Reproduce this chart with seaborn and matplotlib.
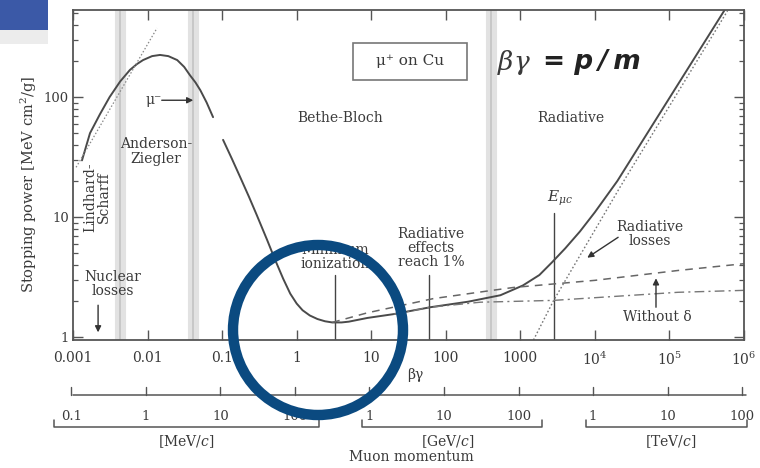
import numpy as np
import pandas as pd
import matplotlib
matplotlib.use('Agg')
import matplotlib.pyplot as plt
import seaborn as sns
from matplotlib.patches import Ellipse, Rectangle
from matplotlib.ticker import FixedLocator, FixedFormatter, LogLocator, NullFormatter, NullLocator

# --- data (x = beta*gamma, y = stopping power MeV cm^2/g) ---
az_bg = [0.00132, 0.00169, 0.0023, 0.0031, 0.0043, 0.0058, 0.0072, 0.0087, 0.0115, 0.0147,
         0.019, 0.025, 0.031, 0.037, 0.044, 0.051, 0.062, 0.0756]
az_sp = [29.7, 50, 72, 100, 135, 168, 188, 203, 219, 224, 219, 203, 178, 152, 132, 114, 90, 68]

bb_bg = [0.103, 0.135, 0.175, 0.23, 0.29, 0.40, 0.52, 0.66, 0.82, 1.0, 1.2, 1.5, 1.9, 2.4,
         3.0, 4.0, 5.0, 8.9, 20, 62, 200, 540, 1080, 1800, 2650, 4000, 6300, 1e4, 2e4, 5.5e5]
bb_sp = [44, 30.7, 21.5, 14.7, 10.5, 6.5, 4.34, 3.07, 2.31, 1.91, 1.68, 1.52, 1.42, 1.36,
         1.33, 1.33, 1.35, 1.45, 1.56, 1.78, 1.98, 2.24, 2.7, 3.3, 4.2, 5.5, 7.6, 11, 20, 530]

dash_bg = [3.0, 8.9, 68, 400, 810, 1e4, 1.3e5, 1e6]
dash_sp = [1.33, 1.6, 2.1, 2.45, 2.6, 2.98, 3.6, 4.1]

dashdot_bg = [20, 62, 290, 2800, 1.3e5, 1e6]
dashdot_sp = [1.56, 1.78, 1.96, 2.03, 2.37, 2.46]

rad_bg = [1500, 2800, 2.2e4, 6e5]
rad_sp = [0.95, 2.03, 18, 520]

lindhard_bg = [0.0011, 0.0134]
lindhard_sp = [26, 375]

band_bg = [0.0043, 0.041, 400]
mark_bg = [3.3, 60, 2800]
mark_top = [3.3, 3.3, 10.8]

xtick_vals = [1e-3, 1e-2, 1e-1, 1, 10, 100, 1000, 1e4, 1e5, 1e6]
xtick_labels = ['0.001', '0.01', '0.1', '1', '10', '100', '1000', '$10^4$', '$10^5$', '$10^6$']
ytick_vals = [1, 10, 100]
ytick_labels = ['1', '10', '100']

muon_mass = 105.66  # MeV
mom_mev = [0.1, 1, 10, 100]
mom_gev = [1, 10, 100]
mom_tev = [1, 10, 100]

sns.set_theme(style='ticks')
plt.rcParams['font.family'] = ['DejaVu Serif']
plt.rcParams['mathtext.fontset'] = 'dejavuserif'

ink = '#3a3a3a'
fig = plt.figure(figsize=(7.6, 4.68), dpi=100)
ax = fig.add_axes([73 / 760, 128 / 468, 671 / 760, 330 / 468])
ax.set_xscale('log')
ax.set_yscale('log')
ax.set_xlim(1e-3, 1e6)
ax.set_ylim(0.95, 530)

for b in band_bg:
    ax.axvline(b, color='#e2e2e2', lw=8, zorder=0)
    ax.axvline(b, color='#c6c6c6', lw=1.3, zorder=0)

for b, t in zip(mark_bg, mark_top):
    ax.plot([b, b], [0.95, t], color='#444444', lw=1.0)

line_kw = dict(ax=ax, sort=False, estimator=None, solid_joinstyle='round')
sns.lineplot(x=az_bg, y=az_sp, color='#4a4a4a', lw=1.4, **line_kw)
sns.lineplot(x=bb_bg, y=bb_sp, color='#4a4a4a', lw=1.4, **line_kw)
sns.lineplot(x=dash_bg, y=dash_sp, color='#666666', lw=1.1, ls=(0, (5, 4)), **line_kw)
sns.lineplot(x=dashdot_bg, y=dashdot_sp, color='#777777', lw=1.0, ls=(0, (7, 3, 1.5, 3)), **line_kw)
sns.lineplot(x=rad_bg, y=rad_sp, color='#777777', lw=1.0, ls=(0, (1.2, 1.6)), **line_kw)
sns.lineplot(x=lindhard_bg, y=lindhard_sp, color='#888888', lw=0.9, ls=(0, (1.2, 1.6)), **line_kw)

ax.xaxis.set_major_locator(FixedLocator(xtick_vals))
ax.xaxis.set_major_formatter(FixedFormatter(xtick_labels))
ax.xaxis.set_minor_locator(NullLocator())
ax.yaxis.set_major_locator(FixedLocator(ytick_vals))
ax.yaxis.set_major_formatter(FixedFormatter(ytick_labels))
ax.yaxis.set_minor_locator(LogLocator(base=10, subs=np.arange(2, 10)))
ax.yaxis.set_minor_formatter(NullFormatter())
ax.tick_params(which='both', direction='in', top=True, right=True, color='#555555',
               labelcolor=ink, labelsize=10)
ax.tick_params(which='major', length=7, width=1.0)
ax.tick_params(which='minor', length=3.5, width=0.9)
ax.tick_params(axis='x', pad=8)
ax.tick_params(axis='y', pad=3, labelsize=9.5)
for s in ax.spines.values():
    s.set_color('#555555')
    s.set_linewidth(1.3)

ax.set_ylabel('Stopping power [MeV cm$^2$/g]', fontsize=10.5, color=ink)
ax.yaxis.set_label_coords(-0.051, 0.47)

txt = dict(color=ink, fontsize=10, ha='center', va='center')
ax.text(3.8, 67, 'Bethe-Bloch', **txt)
ax.text(4.8e3, 67, 'Radiative', **txt)
ax.text(0.013, 35, 'Anderson-\nZiegler', linespacing=1.1, **txt)
ax.text(0.0021, 14.7, 'Lindhard-\nScharff', rotation=90, linespacing=1.0, **txt)
ax.text(0.0034, 2.77, 'Nuclear\nlosses', linespacing=1.0, **txt)
ax.text(3.25, 4.7, 'Minimum\nionization', linespacing=1.0, **txt)
ax.text(63, 5.5, 'Radiative\neffects\nreach 1%', linespacing=1.0, **txt)
ax.text(3.4e3, 14.4, r'$E_{\mu c}$', color=ink, fontsize=11, ha='center', va='center')
ax.text(5.5e4, 7.2, 'Radiative\nlosses', linespacing=1.0, **txt)
ax.text(6.8e4, 1.47, 'Without δ', **txt)
ax.text(0.0155, 94, 'μ⁻', color=ink, fontsize=10, ha='right', va='center')

ax.add_patch(Rectangle((0.417, 0.788), 0.17, 0.112, transform=ax.transAxes,
                       fill=False, ec='#777777', lw=1.2))
ax.text(0.502, 0.844, 'μ⁺ on Cu', transform=ax.transAxes, color=ink, fontsize=11,
        ha='center', va='center')
ax.text(491, 195, r'$\beta\gamma$', color=ink, fontsize=19, ha='left', va='center')
ax.text(2037, 195, '= p\u2009/\u2009m', color='#222222', fontsize=19, ha='left', va='center',
        family='DejaVu Sans', fontweight='bold', style='italic')

arr = dict(arrowstyle='-|>', color='#333333', lw=1.0, mutation_scale=9, shrinkA=0, shrinkB=0)
ax.annotate('', xy=(0.041, 94), xytext=(0.0155, 94), arrowprops=arr)
ax.annotate('', xy=(0.00217, 1.1), xytext=(0.00217, 1.85), arrowprops=arr)
ax.annotate('', xy=(7.9e3, 4.6), xytext=(2.05e4, 6.8), arrowprops=arr)
ax.annotate('', xy=(6.6e4, 3.1), xytext=(6.6e4, 1.78), arrowprops=arr)

# --- momentum scales below the plot (y in pixel rows) ---
ax2 = fig.add_axes([73 / 760, 0, 671 / 760, 128 / 468])
ax2.set_xscale('log')
ax2.set_xlim(1e-3, 1e6)
ax2.set_ylim(468, 340)
ax2.axis('off')
lc = '#555555'
ax2.text(39, 375, 'βγ', color=ink, fontsize=10, ha='center', va='center')

mom_all = [p for p in mom_mev] + [p * 1e3 for p in mom_gev] + [p * 1e6 for p in mom_tev]
ax2.plot([1e-3, 1.07e6], [395, 395], color=lc, lw=1.1, clip_on=False)
for p in mom_all:
    ax2.plot([p / muon_mass] * 2, [395, 387], color=lc, lw=1.0, clip_on=False)

groups = [(mom_mev, 1, 5.6e-4, 2.0, '[MeV/$c$]', 0.033),
          (mom_gev, 1e3, 7.6, 1.95e3, '[GeV/$c$]', 105),
          (mom_tev, 1e6, 7.7e3, 1.1e6, '[TeV/$c$]', 1.03e5)]
for vals, unit, x0, x1, name, xc in groups:
    for p in vals:
        ax2.text(p * unit / muon_mass, 416, f'{p:g}', color=ink, fontsize=9.5,
                 ha='center', va='center', clip_on=False)
    ax2.plot([x0, x0, x1, x1], [420, 427, 427, 420], color=lc, lw=1.1, clip_on=False)
    ax2.text(xc, 442, name, color=ink, fontsize=10, ha='center', va='center')
ax2.text(35, 457, 'Muon momentum', color=ink, fontsize=10, ha='center', va='center')

# slide decorations
fig.add_artist(Rectangle((0, 1 - 44 / 468), 48 / 760, 14 / 468, transform=fig.transFigure,
                         color='#ececec', lw=0))
fig.add_artist(Rectangle((0, 1 - 30 / 468), 48 / 760, 30 / 468, transform=fig.transFigure,
                         color='#3b59a7', lw=0))
fig.add_artist(Ellipse((318 / 760, 1 - 330 / 468), 170 / 760, 170 / 468,
                       transform=fig.transFigure, fill=False, ec='#0b4a80', lw=7.5, zorder=10))

fig.savefig('out.png', dpi=100, facecolor='white')
